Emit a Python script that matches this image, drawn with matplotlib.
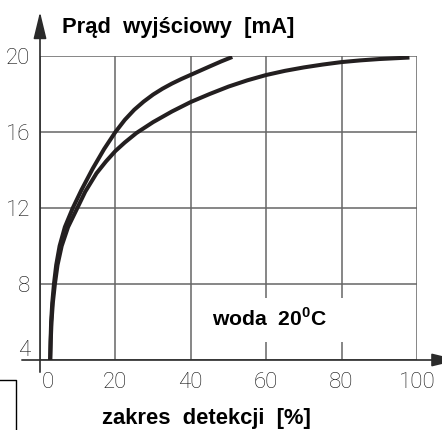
import matplotlib
matplotlib.use("Agg")
import matplotlib.pyplot as plt
import matplotlib.patches as mpatches
from matplotlib.transforms import ScaledTranslation

curve_a_x = [2.7, 2.8, 2.95, 3.25, 3.7, 4.3, 5.2, 6.6, 8.7, 11.0, 14.0, 17.0, 20.0, 22.5, 25.0,
             27.5, 30.0, 32.5, 35.0, 37.5, 40.0, 45.0, 48.0, 51.0]
curve_a_y = [4.0, 5.0, 6.0, 7.0, 8.0, 9.0, 10.0, 11.0, 12.0, 12.95, 14.08, 15.1, 16.0, 16.64, 17.17,
             17.6, 17.97, 18.28, 18.55, 18.79, 19.01, 19.45, 19.71, 19.95]
curve_b_x = [2.7, 2.85, 3.05, 3.4, 3.95, 4.65, 5.75, 7.45, 9.9, 12.0, 15.0, 17.5, 20.0, 22.5, 25.6,
             30.0, 35.0, 40.0, 45.0, 50.0, 55.0, 60.0, 65.0, 70.0, 75.0, 80.0, 85.0, 90.0, 98.0]
curve_b_y = [4.0, 5.0, 6.0, 7.0, 8.0, 9.0, 10.0, 11.0, 12.0, 12.86, 13.83, 14.45, 15.0, 15.45, 15.95,
             16.52, 17.08, 17.58, 18.0, 18.39, 18.72, 19.0, 19.22, 19.4, 19.55, 19.68, 19.77, 19.84, 19.92]

x_ticks = [0, 20, 40, 60, 80, 100]
y_ticks = [4, 8, 12, 16, 20]

plt.rcParams['mathtext.fontset'] = 'custom'
plt.rcParams['mathtext.bf'] = 'Liberation Sans:bold'
plt.rcParams['mathtext.rm'] = 'Liberation Sans'

fig = plt.figure(figsize=(4.42, 4.30), dpi=100)
ax = fig.add_axes([40 / 442, 70 / 430, 377 / 442, 304 / 430])
ax.set_xlim(0, 100)
ax.set_ylim(4, 20)

for s in ax.spines.values():
    s.set_visible(False)

ax.set_xticks(x_ticks)
ax.set_yticks(y_ticks)
ax.grid(True, color='#666666', lw=1.1)
ax.tick_params(length=0, labelsize=16, labelcolor='#111111')
ax.tick_params(axis='x', pad=9)
ax.tick_params(axis='y', pad=7)
for lab in ax.get_xticklabels() + ax.get_yticklabels():
    lab.set_family('Roboto')
    lab.set_fontweight('light')

# the 0 and 4 labels sit off their ticks in the original
ax.get_xticklabels()[0].set_transform(ax.get_xticklabels()[0].get_transform()
                                      + ScaledTranslation(8 / 100, 0, fig.dpi_scale_trans))
ax.get_yticklabels()[0].set_transform(ax.get_yticklabels()[0].get_transform()
                                      + ScaledTranslation(0, 12 / 100, fig.dpi_scale_trans))

ax.plot(curve_a_x, curve_a_y, color='#231f20', lw=2.9, solid_capstyle='butt',
        solid_joinstyle='round', zorder=4)
ax.plot(curve_b_x, curve_b_y, color='#231f20', lw=2.9, solid_capstyle='butt',
        solid_joinstyle='round', zorder=4)

# axes with arrows
arrow = dict(arrowstyle='-|>,head_length=1.65,head_width=0.4', color='#2a2a2a',
             lw=1.2, shrinkA=0, shrinkB=0, mutation_scale=10)
ax.annotate('', xy=(0, 1.145), xytext=(0, -0.04), xycoords='axes fraction',
            textcoords='axes fraction', arrowprops=arrow, annotation_clip=False)
ax.annotate('', xy=(1.11, 0), xytext=(-0.048, 0), xycoords='axes fraction',
            textcoords='axes fraction', arrowprops=arrow, annotation_clip=False)

ax.text(0.058, 1.076, 'Prąd  wyjściowy  [mA]', transform=ax.transAxes,
        fontsize=15.8, fontweight='bold', family='Liberation Sans', va='baseline', ha='left')
ax.text(0.442, -0.212, 'zakres  detekcji  [%]', transform=ax.transAxes,
        fontsize=15.8, fontweight='bold', family='Liberation Sans', va='baseline', ha='center')

# white patch behind the label breaks the grid lines there
ax.add_patch(mpatches.Rectangle((0.42, 0.059), 0.40, 0.145, transform=ax.transAxes,
                                facecolor='white', edgecolor='none', zorder=2))
ax.text(61, 6.2, r'woda  20$^{\mathbf{0}}$C', fontsize=15.2, fontweight='bold',
        family='Liberation Sans', ha='center', va='center', zorder=5)

# frame corner at the bottom left of the scan
fig.add_artist(plt.Line2D([0, 16 / 442, 16 / 442], [50 / 430, 50 / 430, 0],
                          transform=fig.transFigure, color='black', lw=1.0))

fig.savefig('out.png', dpi=100)
